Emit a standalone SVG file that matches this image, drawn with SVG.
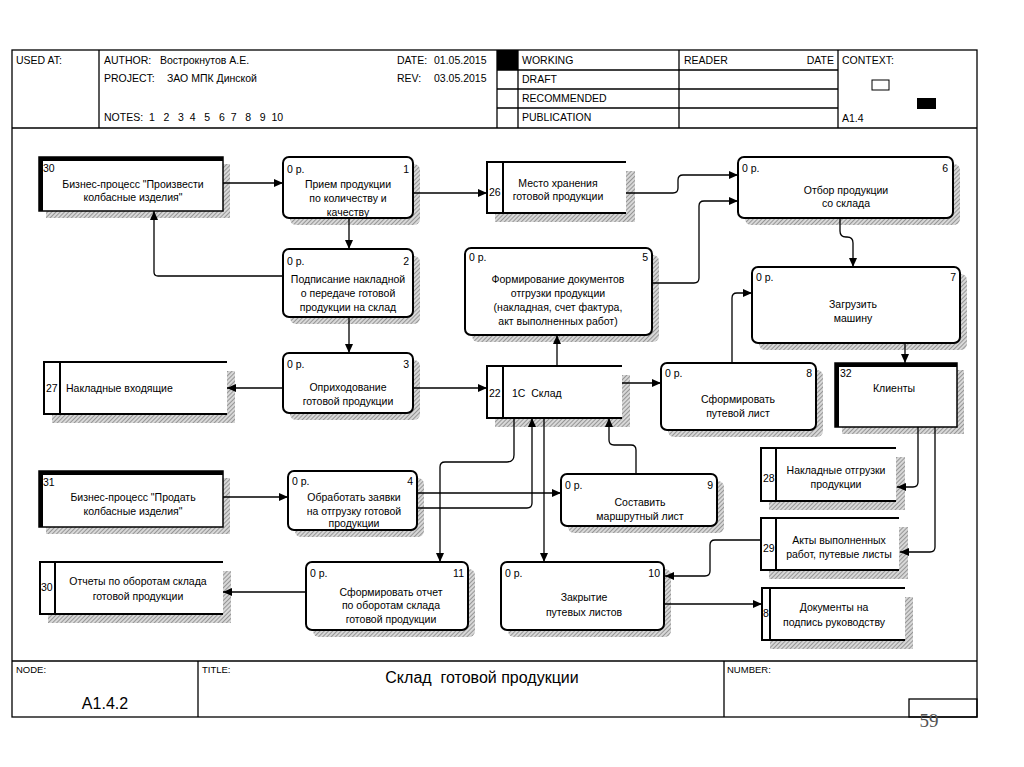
<svg xmlns="http://www.w3.org/2000/svg" width="1024" height="767" viewBox="0 0 1024 767">
<defs>
<pattern id="hatch" patternUnits="userSpaceOnUse" width="3" height="3" patternTransform="rotate(45)">
<rect width="3" height="3" fill="#d8d8d8"/>
<line x1="0" y1="0" x2="0" y2="3" stroke="#7a7a7a" stroke-width="1.4"/>
</pattern>
<marker id="ah" markerUnits="userSpaceOnUse" markerWidth="10" markerHeight="8" refX="9" refY="4" orient="auto">
<path d="M0,0 L9,4 L0,8 Z" fill="#000"/>
</marker>
<style>
text{font-family:"Liberation Sans",Arial,sans-serif;fill:#000}
.h{font-size:10.5px}
.t{font-size:10.5px;text-anchor:middle}
.n{font-size:10.5px}
.r{font-size:10.5px;text-anchor:end}
.frame{fill:none;stroke:#000;stroke-width:1.3}
.ln{stroke:#000;stroke-width:1.3;fill:none}
.proc{fill:#fff;stroke:#000;stroke-width:2}
.shadow{fill:url(#hatch);stroke:none}
.ext{fill:#fff;stroke:#000;stroke-width:1.5}
.thick{stroke:#000;stroke-width:4;fill:none}
.st{stroke:#000;stroke-width:2;fill:none}
.conn path{fill:none;stroke:#000;stroke-width:1.3;marker-end:url(#ah)}
</style>
</defs>
<rect width="1024" height="767" fill="#fff"/>

<g id="frame">
<rect class="frame" x="12" y="50" width="965" height="667"/>
<line class="ln" x1="12" y1="128" x2="977" y2="128"/>
<line class="ln" x1="99" y1="50" x2="99" y2="128"/>
<line class="ln" x1="497" y1="50" x2="497" y2="128"/>
<line class="ln" x1="518" y1="50" x2="518" y2="128"/>
<line class="ln" x1="679" y1="50" x2="679" y2="128"/>
<line class="ln" x1="838" y1="50" x2="838" y2="128"/>
<line class="ln" x1="497" y1="70" x2="838" y2="70"/>
<line class="ln" x1="497" y1="89" x2="838" y2="89"/>
<line class="ln" x1="497" y1="108" x2="838" y2="108"/>
<rect x="497" y="50" width="21" height="20" fill="#000"/>
<rect x="872" y="80" width="17" height="10" fill="#fff" stroke="#000" stroke-width="1"/>
<rect x="917" y="98" width="19" height="11" fill="#000"/>
<text class="h" x="16" y="64">USED AT:</text>
<text class="h" x="104" y="64">AUTHOR:</text>
<text class="h" x="160" y="64">Вострокнутов А.Е.</text>
<text class="h" x="104" y="82">PROJECT:</text>
<text class="h" x="167" y="82">ЗАО МПК Динской</text>
<text class="h" x="104" y="121" xml:space="preserve">NOTES:  1   2   3  4   5   6  7   8   9  10</text>
<text class="h" x="397" y="64">DATE:</text>
<text class="h" x="434" y="64">01.05.2015</text>
<text class="h" x="397" y="82">REV:</text>
<text class="h" x="434" y="82">03.05.2015</text>
<text class="h" x="522" y="64">WORKING</text>
<text class="h" x="522" y="83">DRAFT</text>
<text class="h" x="522" y="102">RECOMMENDED</text>
<text class="h" x="522" y="121">PUBLICATION</text>
<text class="h" x="684" y="64">READER</text>
<text class="h" x="834" y="64" text-anchor="end">DATE</text>
<text class="h" x="842" y="64">CONTEXT:</text>
<text class="h" x="842" y="122">A1.4</text>
<line class="ln" x1="12" y1="661" x2="977" y2="661"/>
<line class="ln" x1="198" y1="661" x2="198" y2="717"/>
<line class="ln" x1="724" y1="661" x2="724" y2="717"/>
<rect class="frame" x="909" y="699" width="68" height="18"/>
<text x="16" y="673" style="font-size:9.5px">NODE:</text>
<text x="202" y="673" style="font-size:9.5px">TITLE:</text>
<text x="727" y="673" style="font-size:9.5px">NUMBER:</text>
<text x="482" y="683" text-anchor="middle" style="font-size:16px" xml:space="preserve">Склад  готовой продукции</text>
<text x="105" y="709" text-anchor="middle" style="font-size:16px">A1.4.2</text>
<text x="929" y="727" text-anchor="middle" style="font-family:'Liberation Serif',serif;font-size:19px;fill:#555">59</text>
</g>

<g id="node30">
<rect class="shadow" x="46" y="164" width="184" height="54"/>
<rect class="ext" x="39" y="157" width="184" height="54"/>
<path class="thick" d="M41,211 V159 H223"/>
<text class="n" x="43" y="172">30</text>
<text class="t" x="133" y="188">Бизнес-процесс "Произвести</text>
<text class="t" x="133" y="201">колбасные изделия"</text>
</g>

<g id="node1">
<rect class="shadow" x="290" y="164" width="130" height="61" rx="6"/>
<rect class="proc" x="283" y="157" width="130" height="61" rx="6"/>
<text class="n" x="287" y="173">0 р.</text>
<text class="r" x="409" y="173">1</text>
<text class="t" x="348" y="188">Прием продукции</text>
<text class="t" x="348" y="202">по количеству и</text>
<text class="t" x="348" y="216">качеству</text>
</g>

<g id="node2">
<rect class="shadow" x="290" y="256" width="130" height="68" rx="6"/>
<rect class="proc" x="283" y="249" width="130" height="68" rx="6"/>
<text class="n" x="287" y="265">0 р.</text>
<text class="r" x="409" y="265">2</text>
<text class="t" x="348" y="283">Подписание накладной</text>
<text class="t" x="348" y="297">о передаче готовой</text>
<text class="t" x="348" y="311">продукции на склад</text>
</g>

<g id="node3">
<rect class="shadow" x="290" y="360" width="130" height="60" rx="6"/>
<rect class="proc" x="283" y="353" width="130" height="60" rx="6"/>
<text class="n" x="287" y="368">0 р.</text>
<text class="r" x="409" y="368">3</text>
<text class="t" x="348" y="391">Оприходование</text>
<text class="t" x="348" y="405">готовой продукции</text>
</g>

<g id="node4">
<rect class="shadow" x="295" y="478" width="129" height="59" rx="6"/>
<rect class="proc" x="288" y="471" width="129" height="59" rx="6"/>
<text class="n" x="292" y="485">0 р.</text>
<text class="r" x="413" y="485">4</text>
<text class="t" x="354" y="501">Обработать заявки</text>
<text class="t" x="354" y="515">на отгрузку готовой</text>
<text class="t" x="354" y="527">продукции</text>
</g>

<g id="node5">
<rect class="shadow" x="472" y="255" width="187" height="87" rx="6"/>
<rect class="proc" x="465" y="248" width="187" height="87" rx="6"/>
<text class="n" x="469" y="261">0 р.</text>
<text class="r" x="648" y="261">5</text>
<text class="t" x="558" y="283">Формирование документов</text>
<text class="t" x="558" y="297">отгрузки продукции</text>
<text class="t" x="558" y="311">(накладная, счет фактура,</text>
<text class="t" x="558" y="325">акт выполненных работ)</text>
</g>

<g id="node6">
<rect class="shadow" x="745" y="164" width="215" height="61" rx="6"/>
<rect class="proc" x="738" y="157" width="215" height="61" rx="6"/>
<text class="n" x="742" y="172">0 р.</text>
<text class="r" x="948" y="172">6</text>
<text class="t" x="846" y="194">Отбор продукции</text>
<text class="t" x="846" y="207">со склада</text>
</g>

<g id="node7">
<rect class="shadow" x="759" y="274" width="208" height="76" rx="6"/>
<rect class="proc" x="752" y="267" width="208" height="76" rx="6"/>
<text class="n" x="756" y="281">0 р.</text>
<text class="r" x="956" y="281">7</text>
<text class="t" x="853" y="308">Загрузить</text>
<text class="t" x="853" y="322">машину</text>
</g>

<g id="node8">
<rect class="shadow" x="668" y="370" width="155" height="67" rx="6"/>
<rect class="proc" x="661" y="363" width="155" height="67" rx="6"/>
<text class="n" x="665" y="377">0 р.</text>
<text class="r" x="812" y="377">8</text>
<text class="t" x="738" y="403">Сформировать</text>
<text class="t" x="738" y="417">путевой лист</text>
</g>

<g id="node9">
<rect class="shadow" x="568" y="481" width="156" height="52" rx="6"/>
<rect class="proc" x="561" y="474" width="156" height="52" rx="6"/>
<text class="n" x="565" y="489">0 р.</text>
<text class="r" x="713" y="489">9</text>
<text class="t" x="640" y="506">Составить</text>
<text class="t" x="640" y="520">маршрутный лист</text>
</g>

<g id="node10">
<rect class="shadow" x="508" y="569" width="163" height="68" rx="6"/>
<rect class="proc" x="501" y="562" width="163" height="68" rx="6"/>
<text class="n" x="505" y="577">0 р.</text>
<text class="r" x="660" y="577">10</text>
<text class="t" x="584" y="601">Закрытие</text>
<text class="t" x="584" y="616">путевых листов</text>
</g>

<g id="node11">
<rect class="shadow" x="313" y="569" width="162" height="68" rx="6"/>
<rect class="proc" x="306" y="562" width="162" height="68" rx="6"/>
<text class="n" x="310" y="577">0 р.</text>
<text class="r" x="464" y="577">11</text>
<text class="t" x="391" y="596">Сформировать отчет</text>
<text class="t" x="391" y="609">по оборотам склада</text>
<text class="t" x="391" y="623">готовой продукции</text>
</g>

<g id="node31">
<rect class="shadow" x="46" y="478" width="184" height="56"/>
<rect class="ext" x="39" y="471" width="184" height="56"/>
<path class="thick" d="M41,527 V473 H223"/>
<text class="n" x="43" y="486">31</text>
<text class="t" x="133" y="501">Бизнес-процесс "Продать</text>
<text class="t" x="133" y="515">колбасные изделия"</text>
</g>

<g id="node32">
<rect class="shadow" x="842" y="370" width="122" height="64"/>
<rect class="ext" x="835" y="363" width="122" height="64"/>
<path class="thick" d="M837,427 V365 H957"/>
<text class="n" x="840" y="377">32</text>
<text class="t" x="894" y="392">Клиенты</text>
</g>

<g id="store26">
<rect class="shadow" x="495" y="171" width="140" height="51"/>
<rect x="487" y="162" width="139" height="51" fill="#fff"/>
<path class="st" d="M626,162 H487 V213 H626 M503,162 V213"/>
<text class="n" x="489" y="196">26</text>
<text class="t" x="558" y="187">Место хранения</text>
<text class="t" x="558" y="200">готовой продукции</text>
</g>

<g id="store27">
<rect class="shadow" x="52" y="371" width="183" height="52"/>
<rect x="44" y="362" width="183" height="52" fill="#fff"/>
<path class="st" d="M227,362 H44 V414 H227 M60,362 V414"/>
<text class="n" x="46" y="392">27</text>
<text class="n" x="66" y="392">Накладные входящие</text>
</g>

<g id="store22">
<rect class="shadow" x="495" y="375" width="135" height="52"/>
<rect x="487" y="366" width="135" height="52" fill="#fff"/>
<path class="st" d="M622,366 H487 V418 H622 M503,366 V418"/>
<text class="n" x="489" y="397">22</text>
<text class="n" x="512" y="397" xml:space="preserve">1С  Склад</text>
</g>

<g id="store28">
<rect class="shadow" x="769" y="457" width="136" height="53"/>
<rect x="761" y="448" width="135" height="53" fill="#fff"/>
<path class="st" d="M896,448 H761 V501 H896 M776,448 V501"/>
<text class="n" x="763" y="482">28</text>
<text class="t" x="836" y="474">Накладные отгрузки</text>
<text class="t" x="836" y="488">продукции</text>
</g>

<g id="store29">
<rect class="shadow" x="769" y="527" width="139" height="52"/>
<rect x="761" y="518" width="138" height="52" fill="#fff"/>
<path class="st" d="M899,518 H761 V570 H899 M776,518 V570"/>
<text class="n" x="763" y="552">29</text>
<text class="t" x="839" y="544">Акты выполненных</text>
<text class="t" x="839" y="558">работ, путевые листы</text>
</g>

<g id="store8">
<rect class="shadow" x="770" y="597" width="143" height="52"/>
<rect x="762" y="588" width="143" height="52" fill="#fff"/>
<path class="st" d="M905,588 H762 V640 H905 M770,588 V640"/>
<text class="n" x="763" y="617">8</text>
<text class="t" x="834" y="611">Документы на</text>
<text class="t" x="834" y="626">подпись руководству</text>
</g>

<g id="store30">
<rect class="shadow" x="48" y="571" width="183" height="52"/>
<rect x="40" y="562" width="183" height="52" fill="#fff"/>
<path class="st" d="M223,562 H40 V614 H223 M55,562 V614"/>
<text class="n" x="41" y="591">30</text>
<text class="t" x="138" y="585">Отчеты по оборотам склада</text>
<text class="t" x="138" y="600">готовой продукции</text>
</g>

<g class="conn" id="connectors">
<path d="M223,183 H283"/>
<path d="M349,218 V249"/>
<path d="M283,276 H158 Q154,276 154,272 V211"/>
<path d="M413,193 H487"/>
<path d="M626,193 H673 Q678,193 678,188 V180 Q678,175 683,175 H738"/>
<path d="M652,283 H694 Q699,283 699,278 V206 Q699,201 704,201 H738"/>
<path d="M840,218 V231 Q840,237 846,237 H847 Q853,237 853,243 V267"/>
<path d="M732,363 V298 Q732,293 737,293 H752"/>
<path d="M557,366 V335"/>
<path d="M349,317 V353"/>
<path d="M283,388 H227"/>
<path d="M413,388 H487"/>
<path d="M622,383 H661"/>
<path d="M905,343 V363"/>
<path d="M918,427 V482 Q918,487 913,487 H897"/>
<path d="M935,427 V547 Q935,552 930,552 H900"/>
<path d="M761,540 H715 Q710,540 710,545 V571 Q710,576 705,576 H665"/>
<path d="M664,604 H762"/>
<path d="M636,474 V450 Q636,445 631,445 H614 Q609,445 609,440 V418"/>
<path d="M514,418 V455 Q514,462 507,462 H445 Q440,462 440,467 V562"/>
<path d="M417,508 H527 Q532,508 532,503 V418"/>
<path d="M544,418 V562"/>
<path d="M417,493 H561"/>
<path d="M223,497 H288"/>
<path d="M306,592 H223"/>
</g>
</svg>
